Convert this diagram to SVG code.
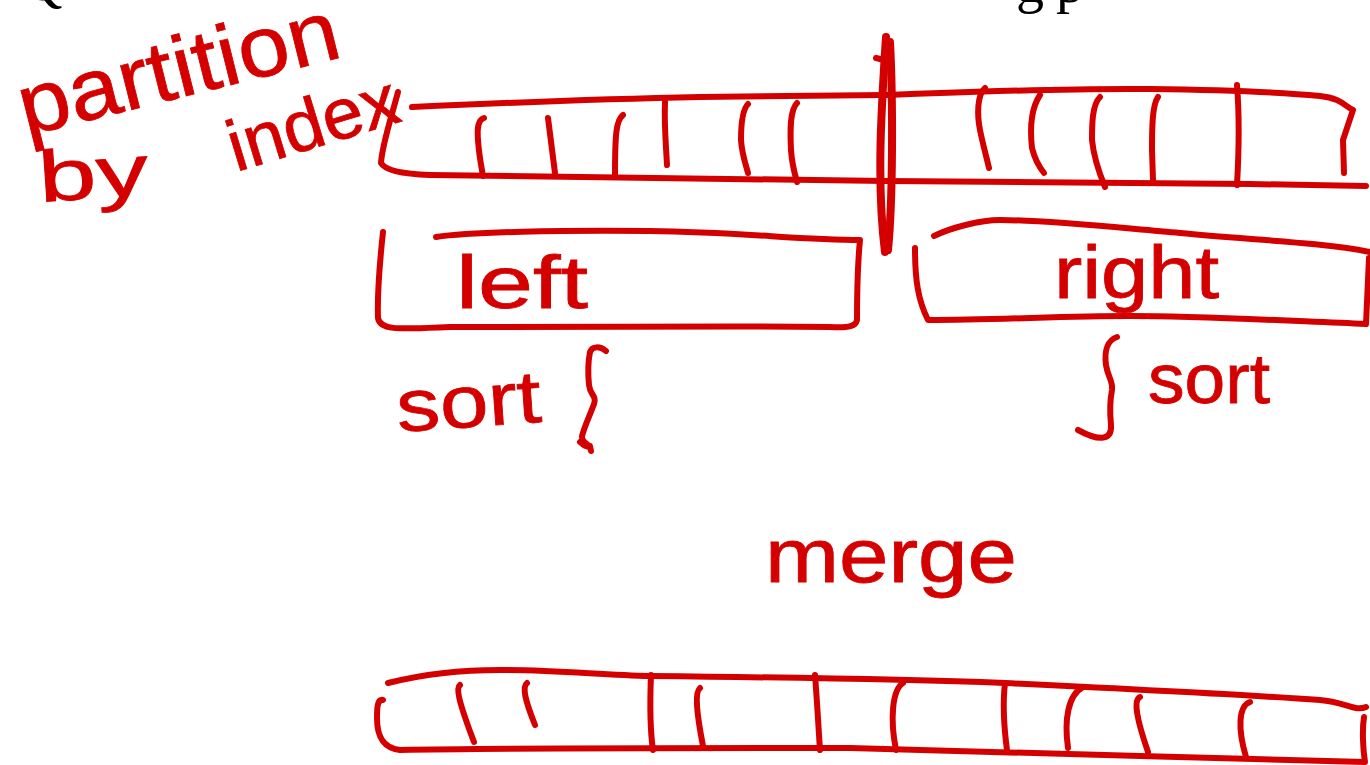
<svg xmlns="http://www.w3.org/2000/svg" width="1370" height="765" viewBox="0 0 1370 765">
<style>
.ink{fill:none;stroke:#d40000;stroke-width:6;stroke-linecap:round;stroke-linejoin:round}
.thick{fill:none;stroke:#d40000;stroke-width:8;stroke-linecap:round;stroke-linejoin:round}
.hw{font-family:"Liberation Sans","DejaVu Sans",sans-serif;fill:#d40000;stroke:#d40000;stroke-width:0.8}
.head{font-family:"Liberation Serif","DejaVu Serif",serif;fill:#000;font-size:56px}
</style>
<rect width="1370" height="765" fill="#fff"/>
<g id="heading">
<text class="head" x="22" y="0">Q</text>
<text class="head" x="1016" y="2">g</text>
<text class="head" x="1056" y="2">p</text>
</g>
<g id="labels">
<text class="hw" font-size="86" textLength="328" lengthAdjust="spacingAndGlyphs" transform="translate(26,136) rotate(-14)">partition</text>
<text class="hw" font-size="72" textLength="110" lengthAdjust="spacingAndGlyphs" transform="translate(40,202) rotate(-4)">by</text>
<text class="hw" font-size="72" textLength="175" lengthAdjust="spacingAndGlyphs" transform="translate(236,172) rotate(-17)">index</text>
</g>
<g id="top-array">
<path class="ink" d="M412,107 C500,103 600,99 700,97 C780,96 840,95 886,95 C950,93 1050,88 1150,89 C1230,90 1290,93 1320,96 C1340,98 1345,106 1353,110 L1343,140 L1344,173"/>
<path class="ink" d="M398,92 C392,115 382,145 381,163 C385,170 400,174 430,175 C550,178 700,178 886,181 C1000,182 1150,183 1250,184 L1366,186"/>
<path class="ink" d="M484,118 C478,120 477,128 478,140 C479,155 481,165 483,176"/>
<path class="ink" d="M548,118 L555,173"/>
<path class="ink" d="M623,115 C616,120 615,135 615,176"/>
<path class="ink" d="M665,102 C664,125 666,145 667,165"/>
<path class="ink" d="M748,104 C742,110 741,125 741,140 C742,155 746,165 748,173"/>
<path class="ink" d="M797,103 C790,110 790,130 791,150 C792,165 795,175 797,182"/>
<path class="ink" d="M985,88 C977,95 977,115 980,130 C983,145 986,155 989,168"/>
<path class="ink" d="M1040,95 C1030,110 1030,130 1032,148 C1035,160 1040,168 1044,173"/>
<path class="ink" d="M1100,97 C1092,105 1092,125 1092,140 C1094,160 1100,175 1105,187"/>
<path class="ink" d="M1158,97 C1152,105 1152,130 1152,150 L1153,180"/>
<path class="ink" d="M1237,85 C1239,110 1239,150 1237,185"/>
</g>
<g id="partition-line">
<path class="thick" d="M886,37 C882,100 876,180 885,252"/>
<path class="thick" d="M890,42 C893,100 893,200 888,250"/>
<path class="ink" d="M876,58 L884,60"/>
</g>
<g id="left-box">
<path class="ink" d="M436,237 C470,232 560,230 650,231 C740,232 800,240 860,240 C857,270 857,300 857,320 C856,326 850,328 830,327 C700,326 560,326 450,327 C400,329 380,331 378,318 C377,290 380,260 383,232"/>
<text class="hw" font-size="74" textLength="132" lengthAdjust="spacingAndGlyphs" x="456" y="308">left</text>
</g>
<g id="right-box">
<path class="ink" d="M934,236 C950,228 980,220 1000,220 C1050,220 1120,228 1180,233 C1250,240 1320,242 1370,252"/>
<path class="ink" d="M915,248 C915,280 918,300 928,320 C1000,320 1060,316 1130,316 C1200,316 1270,320 1366,324 L1369,258"/>
<text class="hw" font-size="74" textLength="165" lengthAdjust="spacingAndGlyphs" x="1054" y="298">right</text>
</g>
<g id="left-sort">
<text class="hw" font-size="74" textLength="145" lengthAdjust="spacingAndGlyphs" transform="translate(398,432) rotate(-4)">sort</text>
<path class="ink" d="M606,351 C600,346 592,346 590,352 C588,362 588,375 589,385 C590,395 597,396 594,404 C590,415 585,425 582,436 C581,442 588,444 590,447 C586,447 582,444 580,442 M590,446 L591,451"/>
</g>
<g id="right-sort">
<path class="ink" d="M1117,337 C1108,340 1104,350 1106,365 C1108,378 1113,380 1112,390 C1110,400 1110,415 1111,425 C1112,440 1100,442 1078,430"/>
<text class="hw" font-size="70" textLength="122" lengthAdjust="spacingAndGlyphs" x="1148" y="403">sort</text>
</g>
<g id="merge-label">
<text class="hw" font-size="76" textLength="252" lengthAdjust="spacingAndGlyphs" x="765" y="582">merge</text>
</g>
<g id="merged-array">
<path class="ink" d="M388,683 C420,675 460,670 500,670 C560,670 600,675 650,676 C750,677 900,679 1005,683 C1150,690 1250,695 1320,700 C1345,702 1355,712 1366,707"/>
<path class="ink" d="M383,700 C378,699 377,705 377,718 C377,735 382,748 400,750 C500,748 650,748 850,748 C1000,752 1200,758 1365,762 C1363,750 1362,730 1364,717"/>
<path class="ink" d="M460,685 C456,688 458,700 474,742"/>
<path class="ink" d="M527,683 C522,687 525,700 535,725"/>
<path class="ink" d="M651,675 C650,700 650,730 653,750"/>
<path class="ink" d="M700,688 C695,692 696,710 703,746"/>
<path class="ink" d="M815,675 C817,700 818,720 820,750"/>
<path class="ink" d="M903,683 C892,690 890,720 896,750"/>
<path class="ink" d="M1005,683 C1003,700 1003,720 1007,750"/>
<path class="ink" d="M1083,687 C1068,695 1064,720 1068,748"/>
<path class="ink" d="M1140,697 C1133,700 1137,720 1148,752"/>
<path class="ink" d="M1250,702 C1238,706 1238,730 1246,757"/>
</g>
</svg>
